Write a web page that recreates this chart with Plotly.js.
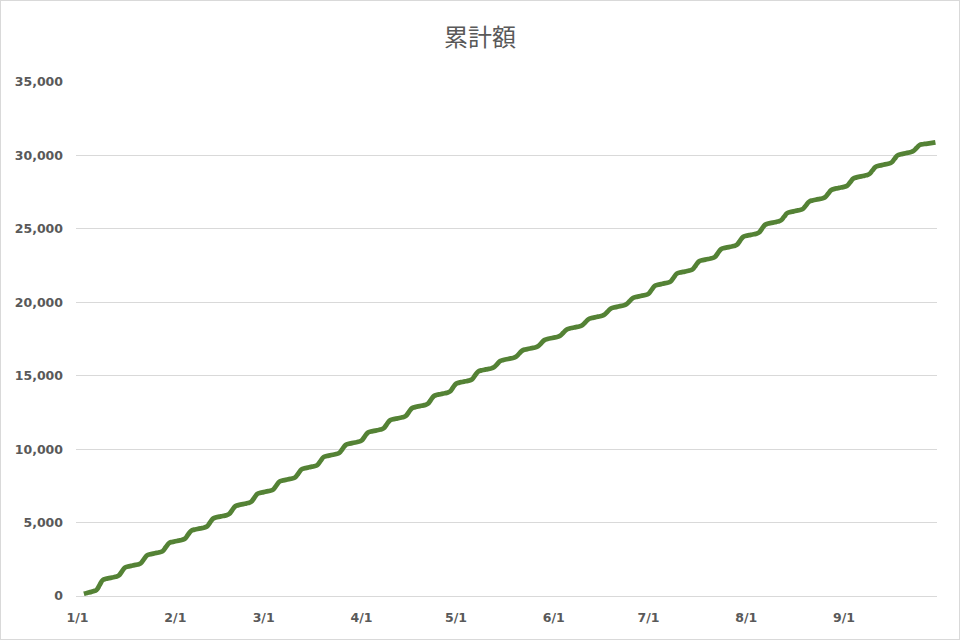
<!DOCTYPE html>
<html>
<head>
<meta charset="utf-8">
<script src="https://cdn.plot.ly/plotly-3.0.1.min.js"></script>
<style>
html,body{margin:0;padding:0;background:#fff;}
#wrap{position:relative;width:960px;height:640px;}
#chart{width:960px;height:640px;}
#frame{position:absolute;left:0;top:0;width:960px;height:640px;box-sizing:border-box;border:1px solid #d9d9d9;pointer-events:none;}
</style>
</head>
<body>
<div id="wrap"><div id="chart"></div><div id="frame"></div></div>
<script>
const chartTitle = '累計額';
const startDate = '2022-01-03';
const dailyAmounts = [
  150, 60, 55, 60, 85, 340, 340,
  80, 45, 45, 45, 80, 270, 272,
  82, 44, 46, 43, 80, 272, 270,
  78, 46, 44, 47, 80, 271, 271,
  81, 43, 47, 45, 79, 270, 272,
  80, 45, 45, 45, 80, 272, 270,
  82, 44, 46, 43, 80, 271, 271,
  78, 46, 44, 47, 80, 270, 272,
  81, 43, 47, 45, 79, 272, 270,
  80, 45, 45, 45, 80, 268, 270,
  82, 44, 46, 43, 80, 270, 268,
  78, 46, 44, 47, 80, 269, 269,
  81, 43, 47, 45, 79, 268, 270,
  80, 45, 45, 45, 80, 270, 268,
  82, 44, 46, 43, 80, 269, 269,
  78, 46, 44, 47, 80, 268, 270,
  81, 43, 47, 45, 79, 270, 268,
  80, 45, 45, 45, 80, 267, 269,
  82, 44, 46, 43, 80, 208, 211,
  78, 46, 44, 47, 80, 211, 208,
  81, 43, 47, 45, 79, 209, 210,
  80, 45, 45, 45, 80, 208, 211,
  82, 44, 46, 43, 80, 211, 208,
  78, 46, 44, 47, 80, 209, 210,
  81, 43, 47, 45, 79, 210, 211,
  80, 45, 45, 45, 80, 268, 270,
  82, 44, 46, 43, 80, 270, 268,
  78, 46, 44, 47, 80, 269, 269,
  81, 43, 47, 45, 79, 268, 270,
  80, 45, 45, 45, 80, 270, 268,
  82, 44, 46, 43, 80, 269, 271,
  78, 46, 44, 47, 80, 245, 247,
  81, 43, 47, 45, 79, 247, 245,
  80, 45, 45, 45, 80, 246, 246,
  82, 44, 46, 43, 80, 245, 247,
  78, 46, 44, 47, 80, 247, 245,
  81, 43, 47, 45, 79, 244, 246,
  80, 45, 45, 45, 80, 207, 208,
  50, 30, 33, 32, 35
];
const monthTickDates = ['2022-01-01','2022-02-01','2022-03-01','2022-04-01','2022-05-01','2022-06-01','2022-07-01','2022-08-01','2022-09-01'];
const monthTickLabels = ['1/1','2/1','3/1','4/1','5/1','6/1','7/1','8/1','9/1'];
const yTickValues = [0,5000,10000,15000,20000,25000,30000,35000];
const yTickLabels = ['0','5,000','10,000','15,000','20,000','25,000','30,000','35,000'];

// build dates and running total
const dates = [];
const cumulative = [];
let d = new Date(startDate + 'T00:00:00Z');
let total = 0;
for (let i = 0; i < dailyAmounts.length; i++) {
  dates.push(d.toISOString().slice(0,10));
  total += dailyAmounts[i];
  cumulative.push(total);
  d = new Date(d.getTime() + 86400000);
}

const tickFont = {family:'DejaVu Sans', size:12.5, color:'#595959', weight:'bold'};

const trace = {
  x: dates, y: cumulative, type:'scatter', mode:'lines',
  line:{color:'#548235', width:4.75, shape:'spline', smoothing:1.3},
  hoverinfo:'x+y'
};

const layout = {
  width:960, height:640,
  margin:{l:76, r:23, t:82, b:44, pad:0},
  paper_bgcolor:'#ffffff', plot_bgcolor:'#ffffff',
  showlegend:false,
  title:{text:chartTitle, x:0.5, xref:'container', xanchor:'center', y:1-38/640, yref:'container', yanchor:'middle',
         font:{family:'Noto Sans CJK JP', size:24, color:'#595959'}},
  xaxis:{type:'date', range:['2021-12-31 12:00','2022-09-30 12:00'], tickmode:'array', tickvals:monthTickDates, ticktext:monthTickLabels,
         showgrid:false, zeroline:false, showline:true, linecolor:'#d9d9d9', linewidth:1, ticks:'', tickfont:tickFont, ticklabelstandoff:10},
  yaxis:{range:[0,35000], tickmode:'array', tickvals:yTickValues, ticktext:yTickLabels, showgrid:true, gridcolor:'#d9d9d9', gridwidth:1,
         zeroline:true, zerolinecolor:'#d9d9d9', zerolinewidth:1, showline:false, ticks:'', tickfont:tickFont, ticklabelstandoff:12}
};

Plotly.newPlot('chart', [trace], layout, {staticPlot:true, displayModeBar:false});
</script>
</body>
</html>
